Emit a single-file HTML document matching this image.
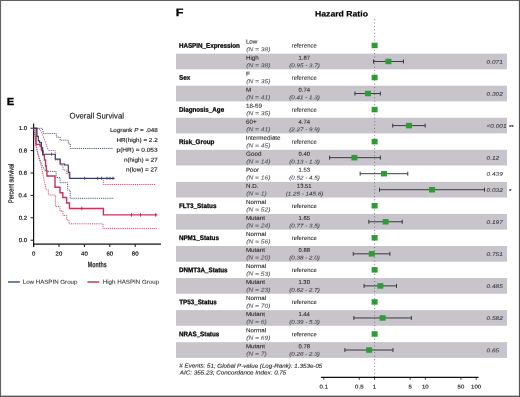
<!DOCTYPE html>
<html><head><meta charset="utf-8"><style>
*{margin:0;padding:0}
html,body{width:520px;height:397px;overflow:hidden;background:#fff}
svg{display:block;will-change:transform}
text{font-family:"Liberation Sans",sans-serif;white-space:pre}
</style></head>
<body><svg width="520" height="397" viewBox="0 0 520 397">
<defs></defs><rect x="0" y="0" width="520" height="397" fill="#fff"/>
<rect x="176" y="53.63" width="331.00" height="15.7" fill="#c7c5cb"/><rect x="176" y="85.69" width="331.00" height="15.7" fill="#c7c5cb"/><rect x="176" y="117.75" width="331.00" height="15.7" fill="#c7c5cb"/><rect x="176" y="149.81" width="331.00" height="15.7" fill="#c7c5cb"/><rect x="176" y="181.87" width="331.00" height="15.7" fill="#c7c5cb"/><rect x="176" y="213.93" width="331.00" height="15.7" fill="#c7c5cb"/><rect x="176" y="245.99" width="331.00" height="15.7" fill="#c7c5cb"/><rect x="176" y="278.05" width="331.00" height="15.7" fill="#c7c5cb"/><rect x="176" y="310.11" width="331.00" height="15.7" fill="#c7c5cb"/><rect x="176" y="342.17" width="331.00" height="15.7" fill="#c7c5cb"/><line x1="374.6" y1="19.2" x2="374.6" y2="377" stroke="#5a5a5a" stroke-width="0.85" stroke-dasharray="0.85 2.55"/><text transform="translate(178.88 47.70) skewY(0.05)" font-size="6.7" font-weight="bold" fill="#000" stroke="#000" stroke-width="0.25" stroke-linejoin="round" textLength="60.93" lengthAdjust="spacingAndGlyphs">HASPIN_Expression</text><text transform="translate(245.89 43.60) skewY(0.05)" font-size="5.9" fill="#2a2a2a" stroke="#2a2a2a" stroke-width="0.10" stroke-linejoin="round" textLength="11.47" lengthAdjust="spacingAndGlyphs">Low</text><text transform="translate(246.19 51.20) skewY(0.05)" font-size="5.7" font-style="italic" fill="#555" stroke="#555" stroke-width="0.06" stroke-linejoin="round" textLength="24.28" lengthAdjust="spacingAndGlyphs">(N = 38)</text><text transform="translate(291.69 47.60) skewY(0.05)" font-size="6.0" fill="#2a2a2a" stroke="#2a2a2a" stroke-width="0.08" stroke-linejoin="round" textLength="25.09" lengthAdjust="spacingAndGlyphs">reference</text><rect x="371.60" y="42.70" width="6.0" height="5.5" fill="#2e9c35"/><text transform="translate(245.89 59.63) skewY(0.05)" font-size="5.9" fill="#2a2a2a" stroke="#2a2a2a" stroke-width="0.10" stroke-linejoin="round" textLength="12.86" lengthAdjust="spacingAndGlyphs">High</text><text transform="translate(246.19 67.23) skewY(0.05)" font-size="5.7" font-style="italic" fill="#555" stroke="#555" stroke-width="0.06" stroke-linejoin="round" textLength="24.28" lengthAdjust="spacingAndGlyphs">(N = 38)</text><text transform="translate(298.50 59.63) skewY(0.05)" font-size="5.6" fill="#2a2a2a" stroke="#2a2a2a" stroke-width="0.08" stroke-linejoin="round" textLength="11.44" lengthAdjust="spacingAndGlyphs">1.87</text><text transform="translate(289.21 67.23) skewY(0.05)" font-size="5.5" font-style="italic" fill="#3a3a3a" stroke="#3a3a3a" stroke-width="0.05" stroke-linejoin="round" textLength="30.67" lengthAdjust="spacingAndGlyphs">(0.95 - 3.7)</text><path d="M373.47 61.48H403.46M373.47 59.48V63.48M403.46 59.48V63.48" stroke="#333" stroke-width="0.95" fill="none"/><rect x="385.41" y="58.73" width="6.0" height="5.5" fill="#2e9c35"/><text transform="translate(486.62 63.63) skewY(0.05)" font-size="5.4" font-style="italic" fill="#333" stroke="#333" stroke-width="0.06" stroke-linejoin="round" textLength="16.22" lengthAdjust="spacingAndGlyphs">0.071</text><text transform="translate(179.12 79.76) skewY(0.05)" font-size="6.7" font-weight="bold" fill="#000" stroke="#000" stroke-width="0.25" stroke-linejoin="round" textLength="11.15" lengthAdjust="spacingAndGlyphs">Sex</text><text transform="translate(245.89 75.66) skewY(0.05)" font-size="5.9" fill="#2a2a2a" stroke="#2a2a2a" stroke-width="0.10" stroke-linejoin="round" textLength="3.82" lengthAdjust="spacingAndGlyphs">F</text><text transform="translate(246.19 83.26) skewY(0.05)" font-size="5.7" font-style="italic" fill="#555" stroke="#555" stroke-width="0.06" stroke-linejoin="round" textLength="24.28" lengthAdjust="spacingAndGlyphs">(N = 35)</text><text transform="translate(291.69 79.66) skewY(0.05)" font-size="6.0" fill="#2a2a2a" stroke="#2a2a2a" stroke-width="0.08" stroke-linejoin="round" textLength="25.09" lengthAdjust="spacingAndGlyphs">reference</text><rect x="371.60" y="74.76" width="6.0" height="5.5" fill="#2e9c35"/><text transform="translate(245.89 91.69) skewY(0.05)" font-size="5.9" fill="#2a2a2a" stroke="#2a2a2a" stroke-width="0.10" stroke-linejoin="round" textLength="5.21" lengthAdjust="spacingAndGlyphs">M</text><text transform="translate(246.19 99.29) skewY(0.05)" font-size="5.7" font-style="italic" fill="#555" stroke="#555" stroke-width="0.06" stroke-linejoin="round" textLength="24.28" lengthAdjust="spacingAndGlyphs">(N = 41)</text><text transform="translate(298.55 91.69) skewY(0.05)" font-size="5.6" fill="#2a2a2a" stroke="#2a2a2a" stroke-width="0.08" stroke-linejoin="round" textLength="11.44" lengthAdjust="spacingAndGlyphs">0.74</text><text transform="translate(289.21 99.29) skewY(0.05)" font-size="5.5" font-style="italic" fill="#3a3a3a" stroke="#3a3a3a" stroke-width="0.05" stroke-linejoin="round" textLength="30.67" lengthAdjust="spacingAndGlyphs">(0.41 - 1.3)</text><path d="M354.93 93.54H380.39M354.93 91.54V95.54M380.39 91.54V95.54" stroke="#333" stroke-width="0.95" fill="none"/><rect x="364.96" y="90.79" width="6.0" height="5.5" fill="#2e9c35"/><text transform="translate(486.62 95.69) skewY(0.05)" font-size="5.4" font-style="italic" fill="#333" stroke="#333" stroke-width="0.06" stroke-linejoin="round" textLength="16.22" lengthAdjust="spacingAndGlyphs">0.302</text><text transform="translate(178.88 111.82) skewY(0.05)" font-size="6.7" font-weight="bold" fill="#000" stroke="#000" stroke-width="0.25" stroke-linejoin="round" textLength="45.26" lengthAdjust="spacingAndGlyphs">Diagnosis_Age</text><text transform="translate(245.92 107.72) skewY(0.05)" font-size="5.9" fill="#2a2a2a" stroke="#2a2a2a" stroke-width="0.10" stroke-linejoin="round" textLength="16.00" lengthAdjust="spacingAndGlyphs">18-59</text><text transform="translate(246.19 115.32) skewY(0.05)" font-size="5.7" font-style="italic" fill="#555" stroke="#555" stroke-width="0.06" stroke-linejoin="round" textLength="24.28" lengthAdjust="spacingAndGlyphs">(N = 35)</text><text transform="translate(291.69 111.72) skewY(0.05)" font-size="6.0" fill="#2a2a2a" stroke="#2a2a2a" stroke-width="0.08" stroke-linejoin="round" textLength="25.09" lengthAdjust="spacingAndGlyphs">reference</text><rect x="371.60" y="106.82" width="6.0" height="5.5" fill="#2e9c35"/><text transform="translate(246.08 123.75) skewY(0.05)" font-size="5.9" fill="#2a2a2a" stroke="#2a2a2a" stroke-width="0.10" stroke-linejoin="round" textLength="10.61" lengthAdjust="spacingAndGlyphs">60+</text><text transform="translate(246.19 131.35) skewY(0.05)" font-size="5.7" font-style="italic" fill="#555" stroke="#555" stroke-width="0.06" stroke-linejoin="round" textLength="24.28" lengthAdjust="spacingAndGlyphs">(N = 41)</text><text transform="translate(298.60 123.75) skewY(0.05)" font-size="5.6" fill="#2a2a2a" stroke="#2a2a2a" stroke-width="0.08" stroke-linejoin="round" textLength="11.44" lengthAdjust="spacingAndGlyphs">4.74</text><text transform="translate(289.21 131.35) skewY(0.05)" font-size="5.5" font-style="italic" fill="#3a3a3a" stroke="#3a3a3a" stroke-width="0.05" stroke-linejoin="round" textLength="30.67" lengthAdjust="spacingAndGlyphs">(2.27 - 9.9)</text><path d="M392.69 125.60H425.18M392.69 123.60V127.60M425.18 123.60V127.60" stroke="#333" stroke-width="0.95" fill="none"/><rect x="405.93" y="122.85" width="6.0" height="5.5" fill="#2e9c35"/><text transform="translate(486.49 127.75) skewY(0.05)" font-size="5.4" font-style="italic" fill="#333" stroke="#333" stroke-width="0.06" stroke-linejoin="round" textLength="20.00" lengthAdjust="spacingAndGlyphs">&lt;0.001</text><text transform="translate(509.00 128.75) skewY(0.05)" font-size="5.3" fill="#2a2a2a" stroke="#2a2a2a" stroke-width="0.12" stroke-linejoin="round" textLength="2.48" lengthAdjust="spacingAndGlyphs">*</text><text transform="translate(511.20 128.75) skewY(0.05)" font-size="5.3" fill="#2a2a2a" stroke="#2a2a2a" stroke-width="0.12" stroke-linejoin="round" textLength="2.48" lengthAdjust="spacingAndGlyphs">*</text><text transform="translate(178.88 143.88) skewY(0.05)" font-size="6.7" font-weight="bold" fill="#000" stroke="#000" stroke-width="0.25" stroke-linejoin="round" textLength="35.51" lengthAdjust="spacingAndGlyphs">Risk_Group</text><text transform="translate(245.82 139.78) skewY(0.05)" font-size="5.9" fill="#2a2a2a" stroke="#2a2a2a" stroke-width="0.10" stroke-linejoin="round" textLength="34.76" lengthAdjust="spacingAndGlyphs">Intermediate</text><text transform="translate(246.19 147.38) skewY(0.05)" font-size="5.7" font-style="italic" fill="#555" stroke="#555" stroke-width="0.06" stroke-linejoin="round" textLength="24.28" lengthAdjust="spacingAndGlyphs">(N = 45)</text><text transform="translate(291.69 143.78) skewY(0.05)" font-size="6.0" fill="#2a2a2a" stroke="#2a2a2a" stroke-width="0.08" stroke-linejoin="round" textLength="25.09" lengthAdjust="spacingAndGlyphs">reference</text><rect x="371.60" y="138.88" width="6.0" height="5.5" fill="#2e9c35"/><text transform="translate(246.09 155.81) skewY(0.05)" font-size="5.9" fill="#2a2a2a" stroke="#2a2a2a" stroke-width="0.10" stroke-linejoin="round" textLength="15.30" lengthAdjust="spacingAndGlyphs">Good</text><text transform="translate(246.19 163.41) skewY(0.05)" font-size="5.7" font-style="italic" fill="#555" stroke="#555" stroke-width="0.06" stroke-linejoin="round" textLength="24.28" lengthAdjust="spacingAndGlyphs">(N = 14)</text><text transform="translate(298.58 155.81) skewY(0.05)" font-size="5.6" fill="#2a2a2a" stroke="#2a2a2a" stroke-width="0.08" stroke-linejoin="round" textLength="11.44" lengthAdjust="spacingAndGlyphs">0.40</text><text transform="translate(289.21 163.41) skewY(0.05)" font-size="5.5" font-style="italic" fill="#3a3a3a" stroke="#3a3a3a" stroke-width="0.05" stroke-linejoin="round" textLength="30.67" lengthAdjust="spacingAndGlyphs">(0.13 - 1.3)</text><path d="M329.59 157.66H380.39M329.59 155.66V159.66M380.39 155.66V159.66" stroke="#333" stroke-width="0.95" fill="none"/><rect x="351.38" y="154.91" width="6.0" height="5.5" fill="#2e9c35"/><text transform="translate(486.62 159.81) skewY(0.05)" font-size="5.4" font-style="italic" fill="#333" stroke="#333" stroke-width="0.06" stroke-linejoin="round" textLength="12.61" lengthAdjust="spacingAndGlyphs">0.12</text><text transform="translate(245.89 171.84) skewY(0.05)" font-size="5.9" fill="#2a2a2a" stroke="#2a2a2a" stroke-width="0.10" stroke-linejoin="round" textLength="13.21" lengthAdjust="spacingAndGlyphs">Poor</text><text transform="translate(246.19 179.44) skewY(0.05)" font-size="5.7" font-style="italic" fill="#555" stroke="#555" stroke-width="0.06" stroke-linejoin="round" textLength="24.28" lengthAdjust="spacingAndGlyphs">(N = 16)</text><text transform="translate(298.48 171.84) skewY(0.05)" font-size="5.6" fill="#2a2a2a" stroke="#2a2a2a" stroke-width="0.08" stroke-linejoin="round" textLength="11.44" lengthAdjust="spacingAndGlyphs">1.53</text><text transform="translate(289.21 179.44) skewY(0.05)" font-size="5.5" font-style="italic" fill="#3a3a3a" stroke="#3a3a3a" stroke-width="0.05" stroke-linejoin="round" textLength="30.67" lengthAdjust="spacingAndGlyphs">(0.52 - 4.5)</text><path d="M360.17 173.69H407.78M360.17 171.69V175.69M407.78 171.69V175.69" stroke="#333" stroke-width="0.95" fill="none"/><rect x="380.98" y="170.94" width="6.0" height="5.5" fill="#2e9c35"/><text transform="translate(486.62 175.84) skewY(0.05)" font-size="5.4" font-style="italic" fill="#333" stroke="#333" stroke-width="0.06" stroke-linejoin="round" textLength="16.22" lengthAdjust="spacingAndGlyphs">0.439</text><text transform="translate(245.89 187.87) skewY(0.05)" font-size="5.9" fill="#2a2a2a" stroke="#2a2a2a" stroke-width="0.10" stroke-linejoin="round" textLength="12.51" lengthAdjust="spacingAndGlyphs">N.D.</text><text transform="translate(246.19 195.47) skewY(0.05)" font-size="5.7" font-style="italic" fill="#555" stroke="#555" stroke-width="0.06" stroke-linejoin="round" textLength="20.57" lengthAdjust="spacingAndGlyphs">(N = 1)</text><text transform="translate(296.86 187.87) skewY(0.05)" font-size="5.6" fill="#2a2a2a" stroke="#2a2a2a" stroke-width="0.08" stroke-linejoin="round" textLength="14.71" lengthAdjust="spacingAndGlyphs">13.51</text><text transform="translate(285.72 195.47) skewY(0.05)" font-size="5.5" font-style="italic" fill="#3a3a3a" stroke="#3a3a3a" stroke-width="0.05" stroke-linejoin="round" textLength="37.64" lengthAdjust="spacingAndGlyphs">(1.25 - 145.6)</text><path d="M379.52 189.72H484.49M379.52 187.72V191.72M484.49 187.72V191.72" stroke="#333" stroke-width="0.95" fill="none"/><rect x="429.04" y="186.97" width="6.0" height="5.5" fill="#2e9c35"/><text transform="translate(486.62 191.87) skewY(0.05)" font-size="5.4" font-style="italic" fill="#333" stroke="#333" stroke-width="0.06" stroke-linejoin="round" textLength="16.22" lengthAdjust="spacingAndGlyphs">0.032</text><text transform="translate(509.00 192.87) skewY(0.05)" font-size="5.3" fill="#2a2a2a" stroke="#2a2a2a" stroke-width="0.12" stroke-linejoin="round" textLength="2.48" lengthAdjust="spacingAndGlyphs">*</text><text transform="translate(178.88 208.00) skewY(0.05)" font-size="6.7" font-weight="bold" fill="#000" stroke="#000" stroke-width="0.25" stroke-linejoin="round" textLength="37.59" lengthAdjust="spacingAndGlyphs">FLT3_Status</text><text transform="translate(245.89 203.90) skewY(0.05)" font-size="5.9" fill="#2a2a2a" stroke="#2a2a2a" stroke-width="0.10" stroke-linejoin="round" textLength="20.15" lengthAdjust="spacingAndGlyphs">Normal</text><text transform="translate(246.19 211.50) skewY(0.05)" font-size="5.7" font-style="italic" fill="#555" stroke="#555" stroke-width="0.06" stroke-linejoin="round" textLength="24.28" lengthAdjust="spacingAndGlyphs">(N = 52)</text><text transform="translate(291.69 207.90) skewY(0.05)" font-size="6.0" fill="#2a2a2a" stroke="#2a2a2a" stroke-width="0.08" stroke-linejoin="round" textLength="25.09" lengthAdjust="spacingAndGlyphs">reference</text><rect x="371.60" y="203.00" width="6.0" height="5.5" fill="#2e9c35"/><text transform="translate(245.89 219.93) skewY(0.05)" font-size="5.9" fill="#2a2a2a" stroke="#2a2a2a" stroke-width="0.10" stroke-linejoin="round" textLength="19.12" lengthAdjust="spacingAndGlyphs">Mutant</text><text transform="translate(246.19 227.53) skewY(0.05)" font-size="5.7" font-style="italic" fill="#555" stroke="#555" stroke-width="0.06" stroke-linejoin="round" textLength="24.28" lengthAdjust="spacingAndGlyphs">(N = 24)</text><text transform="translate(298.48 219.93) skewY(0.05)" font-size="5.6" fill="#2a2a2a" stroke="#2a2a2a" stroke-width="0.08" stroke-linejoin="round" textLength="11.44" lengthAdjust="spacingAndGlyphs">1.65</text><text transform="translate(289.21 227.53) skewY(0.05)" font-size="5.5" font-style="italic" fill="#3a3a3a" stroke="#3a3a3a" stroke-width="0.05" stroke-linejoin="round" textLength="30.67" lengthAdjust="spacingAndGlyphs">(0.77 - 3.5)</text><path d="M368.83 221.78H402.24M368.83 219.78V223.78M402.24 219.78V223.78" stroke="#333" stroke-width="0.95" fill="none"/><rect x="382.65" y="219.03" width="6.0" height="5.5" fill="#2e9c35"/><text transform="translate(486.62 223.93) skewY(0.05)" font-size="5.4" font-style="italic" fill="#333" stroke="#333" stroke-width="0.06" stroke-linejoin="round" textLength="16.22" lengthAdjust="spacingAndGlyphs">0.197</text><text transform="translate(178.88 240.06) skewY(0.05)" font-size="6.7" font-weight="bold" fill="#000" stroke="#000" stroke-width="0.25" stroke-linejoin="round" textLength="40.03" lengthAdjust="spacingAndGlyphs">NPM1_Status</text><text transform="translate(245.89 235.96) skewY(0.05)" font-size="5.9" fill="#2a2a2a" stroke="#2a2a2a" stroke-width="0.10" stroke-linejoin="round" textLength="20.15" lengthAdjust="spacingAndGlyphs">Normal</text><text transform="translate(246.19 243.56) skewY(0.05)" font-size="5.7" font-style="italic" fill="#555" stroke="#555" stroke-width="0.06" stroke-linejoin="round" textLength="24.28" lengthAdjust="spacingAndGlyphs">(N = 56)</text><text transform="translate(291.69 239.96) skewY(0.05)" font-size="6.0" fill="#2a2a2a" stroke="#2a2a2a" stroke-width="0.08" stroke-linejoin="round" textLength="25.09" lengthAdjust="spacingAndGlyphs">reference</text><rect x="371.60" y="235.06" width="6.0" height="5.5" fill="#2e9c35"/><text transform="translate(245.89 251.99) skewY(0.05)" font-size="5.9" fill="#2a2a2a" stroke="#2a2a2a" stroke-width="0.10" stroke-linejoin="round" textLength="19.12" lengthAdjust="spacingAndGlyphs">Mutant</text><text transform="translate(246.19 259.59) skewY(0.05)" font-size="5.7" font-style="italic" fill="#555" stroke="#555" stroke-width="0.06" stroke-linejoin="round" textLength="24.28" lengthAdjust="spacingAndGlyphs">(N = 20)</text><text transform="translate(298.59 251.99) skewY(0.05)" font-size="5.6" fill="#2a2a2a" stroke="#2a2a2a" stroke-width="0.08" stroke-linejoin="round" textLength="11.44" lengthAdjust="spacingAndGlyphs">0.88</text><text transform="translate(289.21 259.59) skewY(0.05)" font-size="5.5" font-style="italic" fill="#3a3a3a" stroke="#3a3a3a" stroke-width="0.05" stroke-linejoin="round" textLength="30.67" lengthAdjust="spacingAndGlyphs">(0.38 - 2.0)</text><path d="M353.25 253.84H389.89M353.25 251.84V255.84M389.89 251.84V255.84" stroke="#333" stroke-width="0.95" fill="none"/><rect x="368.78" y="251.09" width="6.0" height="5.5" fill="#2e9c35"/><text transform="translate(486.62 255.99) skewY(0.05)" font-size="5.4" font-style="italic" fill="#333" stroke="#333" stroke-width="0.06" stroke-linejoin="round" textLength="16.22" lengthAdjust="spacingAndGlyphs">0.751</text><text transform="translate(178.88 272.12) skewY(0.05)" font-size="6.7" font-weight="bold" fill="#000" stroke="#000" stroke-width="0.25" stroke-linejoin="round" textLength="48.73" lengthAdjust="spacingAndGlyphs">DNMT3A_Status</text><text transform="translate(245.89 268.02) skewY(0.05)" font-size="5.9" fill="#2a2a2a" stroke="#2a2a2a" stroke-width="0.10" stroke-linejoin="round" textLength="20.15" lengthAdjust="spacingAndGlyphs">Normal</text><text transform="translate(246.19 275.62) skewY(0.05)" font-size="5.7" font-style="italic" fill="#555" stroke="#555" stroke-width="0.06" stroke-linejoin="round" textLength="24.28" lengthAdjust="spacingAndGlyphs">(N = 53)</text><text transform="translate(291.69 272.02) skewY(0.05)" font-size="6.0" fill="#2a2a2a" stroke="#2a2a2a" stroke-width="0.08" stroke-linejoin="round" textLength="25.09" lengthAdjust="spacingAndGlyphs">reference</text><rect x="371.60" y="267.12" width="6.0" height="5.5" fill="#2e9c35"/><text transform="translate(245.89 284.05) skewY(0.05)" font-size="5.9" fill="#2a2a2a" stroke="#2a2a2a" stroke-width="0.10" stroke-linejoin="round" textLength="19.12" lengthAdjust="spacingAndGlyphs">Mutant</text><text transform="translate(246.19 291.65) skewY(0.05)" font-size="5.7" font-style="italic" fill="#555" stroke="#555" stroke-width="0.06" stroke-linejoin="round" textLength="24.28" lengthAdjust="spacingAndGlyphs">(N = 23)</text><text transform="translate(298.47 284.05) skewY(0.05)" font-size="5.6" fill="#2a2a2a" stroke="#2a2a2a" stroke-width="0.08" stroke-linejoin="round" textLength="11.44" lengthAdjust="spacingAndGlyphs">1.30</text><text transform="translate(289.21 291.65) skewY(0.05)" font-size="5.5" font-style="italic" fill="#3a3a3a" stroke="#3a3a3a" stroke-width="0.05" stroke-linejoin="round" textLength="30.67" lengthAdjust="spacingAndGlyphs">(0.62 - 2.7)</text><path d="M364.05 285.90H396.51M364.05 283.90V287.90M396.51 283.90V287.90" stroke="#333" stroke-width="0.95" fill="none"/><rect x="377.39" y="283.15" width="6.0" height="5.5" fill="#2e9c35"/><text transform="translate(486.62 288.05) skewY(0.05)" font-size="5.4" font-style="italic" fill="#333" stroke="#333" stroke-width="0.06" stroke-linejoin="round" textLength="16.22" lengthAdjust="spacingAndGlyphs">0.485</text><text transform="translate(179.23 304.18) skewY(0.05)" font-size="6.7" font-weight="bold" fill="#000" stroke="#000" stroke-width="0.25" stroke-linejoin="round" textLength="37.60" lengthAdjust="spacingAndGlyphs">TP53_Status</text><text transform="translate(245.89 300.08) skewY(0.05)" font-size="5.9" fill="#2a2a2a" stroke="#2a2a2a" stroke-width="0.10" stroke-linejoin="round" textLength="20.15" lengthAdjust="spacingAndGlyphs">Normal</text><text transform="translate(246.19 307.68) skewY(0.05)" font-size="5.7" font-style="italic" fill="#555" stroke="#555" stroke-width="0.06" stroke-linejoin="round" textLength="24.28" lengthAdjust="spacingAndGlyphs">(N = 70)</text><text transform="translate(291.69 304.08) skewY(0.05)" font-size="6.0" fill="#2a2a2a" stroke="#2a2a2a" stroke-width="0.08" stroke-linejoin="round" textLength="25.09" lengthAdjust="spacingAndGlyphs">reference</text><rect x="371.60" y="299.18" width="6.0" height="5.5" fill="#2e9c35"/><text transform="translate(245.89 316.11) skewY(0.05)" font-size="5.9" fill="#2a2a2a" stroke="#2a2a2a" stroke-width="0.10" stroke-linejoin="round" textLength="19.12" lengthAdjust="spacingAndGlyphs">Mutant</text><text transform="translate(246.19 323.71) skewY(0.05)" font-size="5.7" font-style="italic" fill="#555" stroke="#555" stroke-width="0.06" stroke-linejoin="round" textLength="20.57" lengthAdjust="spacingAndGlyphs">(N = 6)</text><text transform="translate(298.44 316.11) skewY(0.05)" font-size="5.6" fill="#2a2a2a" stroke="#2a2a2a" stroke-width="0.08" stroke-linejoin="round" textLength="11.44" lengthAdjust="spacingAndGlyphs">1.44</text><text transform="translate(289.21 323.71) skewY(0.05)" font-size="5.5" font-style="italic" fill="#3a3a3a" stroke="#3a3a3a" stroke-width="0.05" stroke-linejoin="round" textLength="30.67" lengthAdjust="spacingAndGlyphs">(0.39 - 5.3)</text><path d="M353.83 317.96H411.39M353.83 315.96V319.96M411.39 315.96V319.96" stroke="#333" stroke-width="0.95" fill="none"/><rect x="379.64" y="315.21" width="6.0" height="5.5" fill="#2e9c35"/><text transform="translate(486.62 320.11) skewY(0.05)" font-size="5.4" font-style="italic" fill="#333" stroke="#333" stroke-width="0.06" stroke-linejoin="round" textLength="16.22" lengthAdjust="spacingAndGlyphs">0.582</text><text transform="translate(178.88 336.24) skewY(0.05)" font-size="6.7" font-weight="bold" fill="#000" stroke="#000" stroke-width="0.25" stroke-linejoin="round" textLength="40.38" lengthAdjust="spacingAndGlyphs">NRAS_Status</text><text transform="translate(245.89 332.14) skewY(0.05)" font-size="5.9" fill="#2a2a2a" stroke="#2a2a2a" stroke-width="0.10" stroke-linejoin="round" textLength="20.15" lengthAdjust="spacingAndGlyphs">Normal</text><text transform="translate(246.19 339.74) skewY(0.05)" font-size="5.7" font-style="italic" fill="#555" stroke="#555" stroke-width="0.06" stroke-linejoin="round" textLength="24.28" lengthAdjust="spacingAndGlyphs">(N = 69)</text><text transform="translate(291.69 336.14) skewY(0.05)" font-size="6.0" fill="#2a2a2a" stroke="#2a2a2a" stroke-width="0.08" stroke-linejoin="round" textLength="25.09" lengthAdjust="spacingAndGlyphs">reference</text><rect x="371.60" y="331.24" width="6.0" height="5.5" fill="#2e9c35"/><text transform="translate(245.89 348.17) skewY(0.05)" font-size="5.9" fill="#2a2a2a" stroke="#2a2a2a" stroke-width="0.10" stroke-linejoin="round" textLength="19.12" lengthAdjust="spacingAndGlyphs">Mutant</text><text transform="translate(246.19 355.77) skewY(0.05)" font-size="5.7" font-style="italic" fill="#555" stroke="#555" stroke-width="0.06" stroke-linejoin="round" textLength="20.57" lengthAdjust="spacingAndGlyphs">(N = 7)</text><text transform="translate(298.59 348.17) skewY(0.05)" font-size="5.6" fill="#2a2a2a" stroke="#2a2a2a" stroke-width="0.08" stroke-linejoin="round" textLength="11.44" lengthAdjust="spacingAndGlyphs">0.78</text><text transform="translate(289.21 355.77) skewY(0.05)" font-size="5.5" font-style="italic" fill="#3a3a3a" stroke="#3a3a3a" stroke-width="0.05" stroke-linejoin="round" textLength="30.67" lengthAdjust="spacingAndGlyphs">(0.26 - 2.3)</text><path d="M344.88 350.02H392.98M344.88 348.02V352.02M392.98 348.02V352.02" stroke="#333" stroke-width="0.95" fill="none"/><rect x="366.12" y="347.27" width="6.0" height="5.5" fill="#2e9c35"/><text transform="translate(486.62 352.17) skewY(0.05)" font-size="5.4" font-style="italic" fill="#333" stroke="#333" stroke-width="0.06" stroke-linejoin="round" textLength="12.61" lengthAdjust="spacingAndGlyphs">0.65</text><text transform="translate(179.34 367.60) skewY(0.05)" font-size="5.8" font-style="italic" fill="#2a2a2a" stroke="#2a2a2a" stroke-width="0.12" stroke-linejoin="round" textLength="142.98" lengthAdjust="spacingAndGlyphs"># Events: 51; Global P-value (Log-Rank): 1.353e-05</text><text transform="translate(179.77 374.50) skewY(0.05)" font-size="5.8" font-style="italic" fill="#2a2a2a" stroke="#2a2a2a" stroke-width="0.12" stroke-linejoin="round" textLength="106.56" lengthAdjust="spacingAndGlyphs">AIC: 355.23; Concordance Index: 0.75</text><line x1="320.9" y1="377.3" x2="478.5" y2="377.3" stroke="#111" stroke-width="1.25"/><line x1="323.80" y1="377.3" x2="323.80" y2="379.8" stroke="#111" stroke-width="0.8"/><text transform="translate(319.62 388.60) skewY(0.05)" font-size="5.5" fill="#1a1a1a" stroke="#1a1a1a" stroke-width="0.15" stroke-linejoin="round" textLength="8.41" lengthAdjust="spacingAndGlyphs">0.1</text><line x1="359.31" y1="377.3" x2="359.31" y2="379.8" stroke="#111" stroke-width="0.8"/><text transform="translate(355.11 388.60) skewY(0.05)" font-size="5.5" fill="#1a1a1a" stroke="#1a1a1a" stroke-width="0.15" stroke-linejoin="round" textLength="8.41" lengthAdjust="spacingAndGlyphs">0.5</text><line x1="374.60" y1="377.3" x2="374.60" y2="379.8" stroke="#111" stroke-width="0.8"/><text transform="translate(372.83 388.60) skewY(0.05)" font-size="5.5" fill="#1a1a1a" stroke="#1a1a1a" stroke-width="0.15" stroke-linejoin="round" textLength="3.36" lengthAdjust="spacingAndGlyphs">1</text><line x1="410.11" y1="377.3" x2="410.11" y2="379.8" stroke="#111" stroke-width="0.8"/><text transform="translate(408.43 388.60) skewY(0.05)" font-size="5.5" fill="#1a1a1a" stroke="#1a1a1a" stroke-width="0.15" stroke-linejoin="round" textLength="3.36" lengthAdjust="spacingAndGlyphs">5</text><line x1="425.40" y1="377.3" x2="425.40" y2="379.8" stroke="#111" stroke-width="0.8"/><text transform="translate(421.92 388.60) skewY(0.05)" font-size="5.5" fill="#1a1a1a" stroke="#1a1a1a" stroke-width="0.15" stroke-linejoin="round" textLength="6.73" lengthAdjust="spacingAndGlyphs">10</text><line x1="460.91" y1="377.3" x2="460.91" y2="379.8" stroke="#111" stroke-width="0.8"/><text transform="translate(457.54 388.60) skewY(0.05)" font-size="5.5" fill="#1a1a1a" stroke="#1a1a1a" stroke-width="0.15" stroke-linejoin="round" textLength="6.73" lengthAdjust="spacingAndGlyphs">50</text><line x1="476.20" y1="377.3" x2="476.20" y2="379.8" stroke="#111" stroke-width="0.8"/><text transform="translate(471.04 388.60) skewY(0.05)" font-size="5.5" fill="#1a1a1a" stroke="#1a1a1a" stroke-width="0.15" stroke-linejoin="round" textLength="10.09" lengthAdjust="spacingAndGlyphs">100</text><text transform="translate(175.66 15.90) skewY(0.05)" font-size="10.7" font-weight="bold" fill="#000" stroke="#000" stroke-width="0.30" stroke-linejoin="round" textLength="7.71" lengthAdjust="spacingAndGlyphs">F</text><text transform="translate(315.02 16.40) skewY(0.05)" font-size="8.0" font-weight="bold" fill="#000" stroke="#000" stroke-width="0.20" stroke-linejoin="round" textLength="52.92" lengthAdjust="spacingAndGlyphs">Hazard Ratio</text>
<text transform="translate(6.71 105.00) skewY(0.05)" font-size="10.2" font-weight="bold" fill="#000" stroke="#000" stroke-width="0.30" stroke-linejoin="round" textLength="7.42" lengthAdjust="spacingAndGlyphs">E</text><text transform="translate(69.61 118.40) skewY(0.05)" font-size="8.1" fill="#1a1a1a" stroke="#1a1a1a" stroke-width="0.15" stroke-linejoin="round" textLength="54.34" lengthAdjust="spacingAndGlyphs">Overall Survival</text><line x1="33.6" y1="123.5" x2="33.6" y2="247" stroke="#111" stroke-width="1.2"/><line x1="33" y1="244.2" x2="161" y2="244.2" stroke="#111" stroke-width="1.2"/><line x1="30.6" y1="240.20" x2="33.6" y2="240.20" stroke="#111" stroke-width="1"/><text transform="translate(18.63 242.05) skewY(0.05)" font-size="5.6" fill="#1a1a1a" stroke="#1a1a1a" stroke-width="0.20" stroke-linejoin="round" textLength="8.41" lengthAdjust="spacingAndGlyphs">0.0</text><line x1="30.6" y1="217.80" x2="33.6" y2="217.80" stroke="#111" stroke-width="1"/><text transform="translate(18.70 219.65) skewY(0.05)" font-size="5.6" fill="#1a1a1a" stroke="#1a1a1a" stroke-width="0.20" stroke-linejoin="round" textLength="8.41" lengthAdjust="spacingAndGlyphs">0.2</text><line x1="30.6" y1="195.40" x2="33.6" y2="195.40" stroke="#111" stroke-width="1"/><text transform="translate(18.57 197.25) skewY(0.05)" font-size="5.6" fill="#1a1a1a" stroke="#1a1a1a" stroke-width="0.20" stroke-linejoin="round" textLength="8.41" lengthAdjust="spacingAndGlyphs">0.4</text><line x1="30.6" y1="173.00" x2="33.6" y2="173.00" stroke="#111" stroke-width="1"/><text transform="translate(18.66 174.85) skewY(0.05)" font-size="5.6" fill="#1a1a1a" stroke="#1a1a1a" stroke-width="0.20" stroke-linejoin="round" textLength="8.41" lengthAdjust="spacingAndGlyphs">0.6</text><line x1="30.6" y1="150.60" x2="33.6" y2="150.60" stroke="#111" stroke-width="1"/><text transform="translate(18.66 152.45) skewY(0.05)" font-size="5.6" fill="#1a1a1a" stroke="#1a1a1a" stroke-width="0.20" stroke-linejoin="round" textLength="8.41" lengthAdjust="spacingAndGlyphs">0.8</text><line x1="30.6" y1="128.20" x2="33.6" y2="128.20" stroke="#111" stroke-width="1"/><text transform="translate(18.63 130.05) skewY(0.05)" font-size="5.6" fill="#1a1a1a" stroke="#1a1a1a" stroke-width="0.20" stroke-linejoin="round" textLength="8.41" lengthAdjust="spacingAndGlyphs">1.0</text><line x1="33.60" y1="244.2" x2="33.60" y2="247" stroke="#111" stroke-width="1"/><text transform="translate(31.92 255.50) skewY(0.05)" font-size="5.6" fill="#1a1a1a" stroke="#1a1a1a" stroke-width="0.20" stroke-linejoin="round" textLength="3.36" lengthAdjust="spacingAndGlyphs">0</text><line x1="59.00" y1="244.2" x2="59.00" y2="247" stroke="#111" stroke-width="1"/><text transform="translate(55.60 255.50) skewY(0.05)" font-size="5.6" fill="#1a1a1a" stroke="#1a1a1a" stroke-width="0.20" stroke-linejoin="round" textLength="6.73" lengthAdjust="spacingAndGlyphs">20</text><line x1="84.40" y1="244.2" x2="84.40" y2="247" stroke="#111" stroke-width="1"/><text transform="translate(81.09 255.50) skewY(0.05)" font-size="5.6" fill="#1a1a1a" stroke="#1a1a1a" stroke-width="0.20" stroke-linejoin="round" textLength="6.73" lengthAdjust="spacingAndGlyphs">40</text><line x1="109.80" y1="244.2" x2="109.80" y2="247" stroke="#111" stroke-width="1"/><text transform="translate(106.40 255.50) skewY(0.05)" font-size="5.6" fill="#1a1a1a" stroke="#1a1a1a" stroke-width="0.20" stroke-linejoin="round" textLength="6.73" lengthAdjust="spacingAndGlyphs">60</text><line x1="135.20" y1="244.2" x2="135.20" y2="247" stroke="#111" stroke-width="1"/><text transform="translate(131.82 255.50) skewY(0.05)" font-size="5.6" fill="#1a1a1a" stroke="#1a1a1a" stroke-width="0.20" stroke-linejoin="round" textLength="6.73" lengthAdjust="spacingAndGlyphs">80</text><text transform="translate(87.86 267.30) skewY(0.05)" font-size="8.0" font-weight="bold" fill="#222" stroke="#222" stroke-width="0.12" stroke-linejoin="round" textLength="18.75" lengthAdjust="spacingAndGlyphs">Months</text><g transform="translate(13.5 183.3) rotate(-90)"><text transform="translate(-19.74 0.00) skewY(0.05)" font-size="7.3" fill="#1a1a1a" stroke="#1a1a1a" stroke-width="0.22" stroke-linejoin="round" textLength="39.40" lengthAdjust="spacingAndGlyphs">Percent survival</text></g><path d="M33.6 128.3H42.2L43 131L43.5 133.6H56.3V137.1H60.2V140.2H68.3V143.8H70.3V148.5H113" stroke="#455270" stroke-width="1" fill="none" stroke-dasharray="1 0.9"/><path d="M33.6 128.3L34.5 132L36 146L38 154L40 159.5L42 165L44 169L46 171.4H56.1V177.6H60.1V182.7H67.7V190.2H70.2V198.3H114" stroke="#455270" stroke-width="1" fill="none" stroke-dasharray="1 0.9"/><path d="M33.6 128.3H38.3L41 131L43 136L45 141L47 146.5L48.3 150.5H55.2V160H60V165H63V170H66.7V174H69V178.5H103.3V184.5H156" stroke="#d2486a" stroke-width="1" fill="none" stroke-dasharray="1 0.9"/><path d="M33.6 128.3L35 133L35.5 140L37 150L39 158L42 169L44 180L46.4 189.8H48.3V195H55.4V206.4H60V211H63V215.5H66.7V220H69V223.8H103V228.5H156.5" stroke="#d2486a" stroke-width="1" fill="none" stroke-dasharray="1 0.9"/><path d="M33.6 128.3H36.1V144.4H40V146H41.4V150H42.2V151H43.1V155H44.4V160H45.6V166H46.3V170.8H47V176H55V187.2H60V192.7H62.8V197.5H66.6V203H69.5V208.5H103.4V214.9H157.4" stroke="#c6345a" stroke-width="1.4" fill="none"/><path d="M33.6 128.3H37V136.4H38.3V140.8H39.6V142.6H41.4V147.9H42.7V154.2H55.3V159.1H60.2V164H64.6V165H68.3V172.3H69.8V178.3H114.6" stroke="#323d6e" stroke-width="1.15" fill="none"/><line x1="84.6" y1="176.7" x2="84.6" y2="179.9" stroke="#323d6e" stroke-width="0.8"/><line x1="97.7" y1="176.7" x2="97.7" y2="179.9" stroke="#323d6e" stroke-width="0.8"/><line x1="101.5" y1="176.7" x2="101.5" y2="179.9" stroke="#323d6e" stroke-width="0.8"/><line x1="107" y1="176.7" x2="107" y2="179.9" stroke="#323d6e" stroke-width="0.8"/><line x1="110" y1="176.7" x2="110" y2="179.9" stroke="#323d6e" stroke-width="0.8"/><line x1="113" y1="176.7" x2="113" y2="179.9" stroke="#323d6e" stroke-width="0.8"/><line x1="51.5" y1="152.6" x2="51.5" y2="155.8" stroke="#323d6e" stroke-width="0.8"/><line x1="81.8" y1="206.7" x2="81.8" y2="210.3" stroke="#9a2a4a" stroke-width="0.9"/><line x1="131.5" y1="213.1" x2="131.5" y2="216.70000000000002" stroke="#9a2a4a" stroke-width="0.9"/><line x1="140.5" y1="213.1" x2="140.5" y2="216.70000000000002" stroke="#9a2a4a" stroke-width="0.9"/><line x1="155.7" y1="213.1" x2="155.7" y2="216.70000000000002" stroke="#9a2a4a" stroke-width="0.9"/><text transform="translate(109.89 132.10) skewY(0.05)" font-size="5.8" fill="#222" stroke="#222" stroke-width="0.14" stroke-linejoin="round" textLength="24.33" lengthAdjust="spacingAndGlyphs">Logrank </text><text transform="translate(134.21 132.10) skewY(0.05)" font-size="5.8" font-style="italic" fill="#222" stroke="#222" stroke-width="0.14" stroke-linejoin="round" textLength="4.17" lengthAdjust="spacingAndGlyphs">P</text><text transform="translate(138.38 132.10) skewY(0.05)" font-size="5.8" fill="#222" stroke="#222" stroke-width="0.14" stroke-linejoin="round" textLength="19.29" lengthAdjust="spacingAndGlyphs"> = .048</text><text transform="translate(116.45 141.95) skewY(0.05)" font-size="5.8" fill="#222" stroke="#222" stroke-width="0.14" stroke-linejoin="round" textLength="41.19" lengthAdjust="spacingAndGlyphs">HR(high) = 2.2</text><text transform="translate(116.55 151.80) skewY(0.05)" font-size="5.8" fill="#222" stroke="#222" stroke-width="0.14" stroke-linejoin="round" textLength="41.07" lengthAdjust="spacingAndGlyphs">p(HR) = 0.053</text><text transform="translate(124.05 161.70) skewY(0.05)" font-size="5.8" fill="#222" stroke="#222" stroke-width="0.14" stroke-linejoin="round" textLength="33.59" lengthAdjust="spacingAndGlyphs">n(high) = 27</text><text transform="translate(126.05 171.60) skewY(0.05)" font-size="5.8" fill="#222" stroke="#222" stroke-width="0.14" stroke-linejoin="round" textLength="31.60" lengthAdjust="spacingAndGlyphs">n(low) = 27</text><line x1="8" y1="282" x2="19.9" y2="282" stroke="#4a5880" stroke-width="1.5"/><text transform="translate(22.74 283.80) skewY(0.05)" font-size="5.7" fill="#333" stroke="#333" stroke-width="0.08" stroke-linejoin="round" textLength="54.68" lengthAdjust="spacingAndGlyphs">Low HASPIN Group</text><line x1="87.4" y1="282" x2="99.3" y2="282" stroke="#b8405a" stroke-width="1.5"/><text transform="translate(102.73 283.80) skewY(0.05)" font-size="5.7" fill="#333" stroke="#333" stroke-width="0.08" stroke-linejoin="round" textLength="56.49" lengthAdjust="spacingAndGlyphs">High HASPIN Group</text>
<rect x="0" y="0" width="520" height="1" fill="#5e5e5e"/><rect x="0" y="0" width="1.1" height="397" fill="#646464"/><rect x="518.9" y="0" width="1.1" height="397" fill="#555"/><rect x="0" y="395.6" width="520" height="1.4" fill="#5a5a5a"/>
</svg></body></html>
